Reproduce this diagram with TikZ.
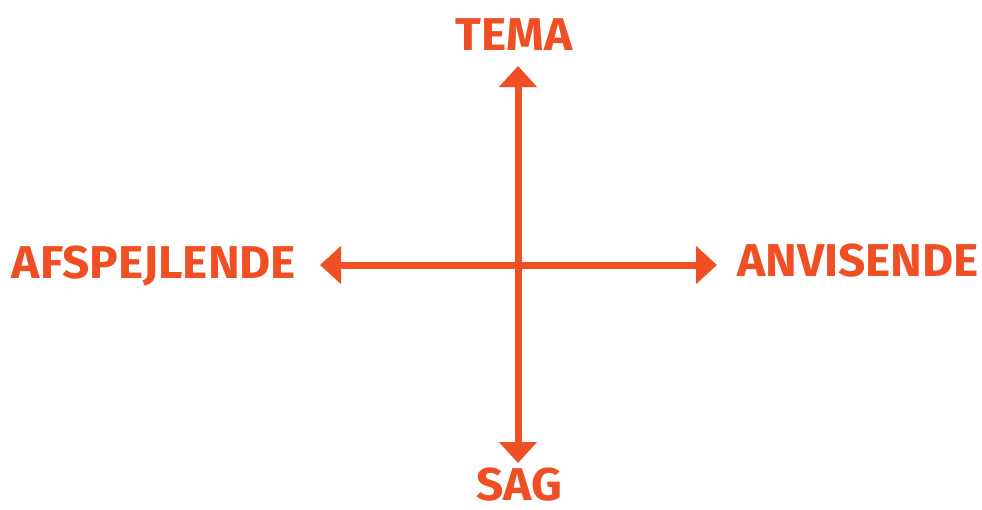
\documentclass[tikz,border=0pt]{standalone}
\usepackage{fontspec}
\setmainfont{Fira Sans}
\usetikzlibrary{arrows.meta}
\definecolor{tomato}{HTML}{F04E23}
\tikzset{
  axis/.style={draw=tomato, line width=7pt, {Triangle[width=37pt,length=21pt]}-{Triangle[width=37pt,length=21pt]}},
  lbl/.style={text=tomato, font=\fontsize{46}{46}\selectfont\bfseries, inner sep=0pt, anchor=center, xscale=1.04}
}
\begin{document}
\begin{tikzpicture}[x=1pt,y=-1pt]
\useasboundingbox (0,0) rectangle (982,509);
\coordinate (top) at (518,66);
\coordinate (bottom) at (518,463);
\coordinate (left) at (320,265);
\coordinate (right) at (717,265);
\draw[axis] (left) -- (right);
\draw[axis] (bottom) -- (top);
\node[lbl] (tema) at (514,35) {TEMA};
\node[lbl] (sag) at (519,485) {SAG};
\node[lbl] (afs) at (154,266) {AFSPEJLENDE};
\node[lbl] (anv) at (858,261) {ANVISENDE};
\end{tikzpicture}
\end{document}
